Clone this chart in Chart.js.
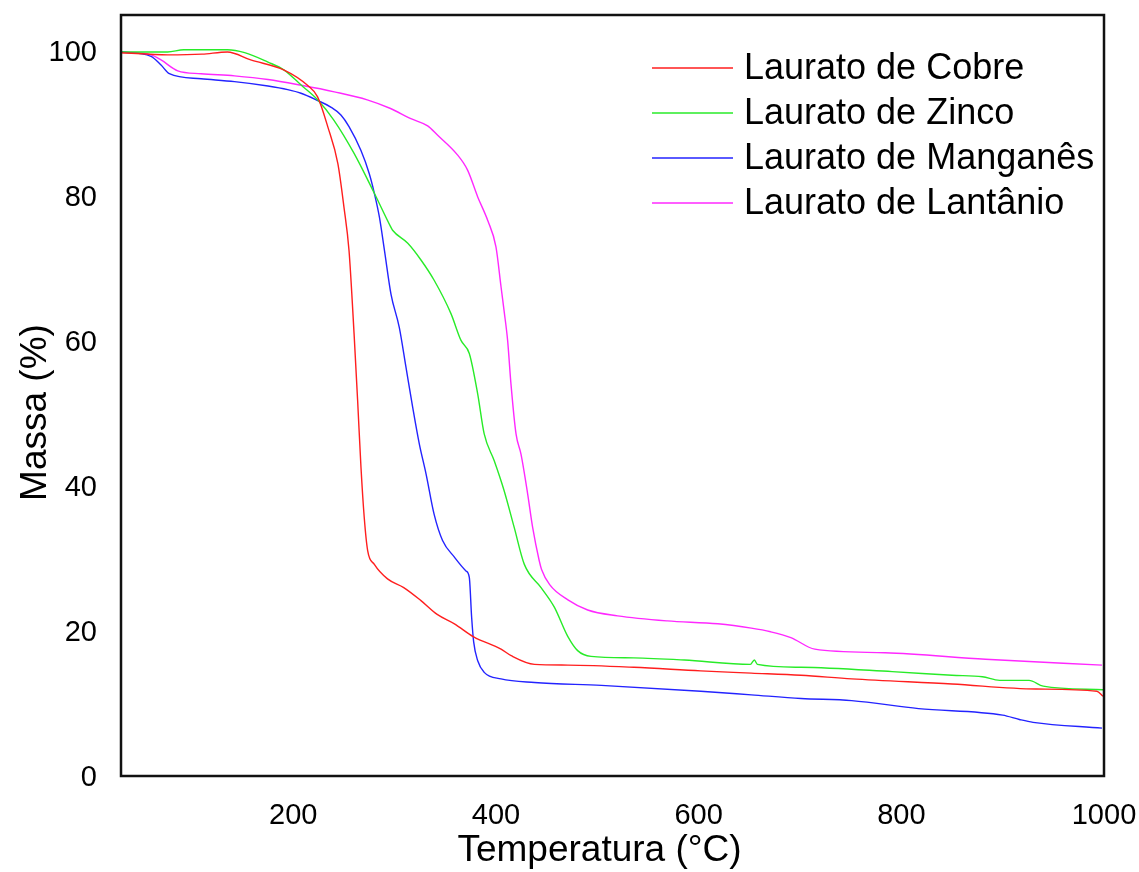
<!DOCTYPE html>
<html>
<head>
<meta charset="utf-8">
<title>TGA - Lauratos</title>
<script src="https://cdn.jsdelivr.net/npm/chart.js@4.4.1/dist/chart.umd.min.js"></script>
<style>
  body { margin: 0; background: #fff; }
  #wrap { width: 1139px; height: 872px; position: relative; }
</style>
</head>
<body>
<div id="wrap"><canvas id="tgaChart"></canvas></div>
<script>
// curvas termogravimetricas: temperatura (°C) x massa (%)
const cobreTemp  = [30, 76, 110, 135, 158, 191, 214, 224, 234, 244, 250, 255, 260, 263.5, 266.8, 270, 273.4, 280, 293, 309, 326, 342, 359, 378, 405, 415, 438, 471, 536, 602, 652, 701, 751, 850, 933, 993, 999]
const cobreMassa = [99.8, 99.5, 99.6, 99.9, 98.8, 97.4, 95.3, 93.7, 89.6, 84.5, 78.5, 72.5, 61, 51.8, 42.6, 35.7, 31.1, 29.2, 27.2, 26.0, 24.2, 22.3, 21.0, 19.2, 17.5, 16.6, 15.4, 15.3, 15.0, 14.5, 14.2, 13.9, 13.4, 12.7, 12.0, 11.7, 11.0]

const zincoTemp  = [30, 76, 92, 135, 152, 175, 191, 208, 224, 240, 260, 280, 296, 298, 313, 326, 339, 355.6, 365.5, 373.7, 382, 388.4, 398.3, 408, 418, 428, 444.5, 457.6, 470.7, 480.6, 493.8, 536, 586, 651, 655, 658, 701, 791, 850, 880, 897, 926, 940, 999]
const zincoMassa = [99.9, 99.9, 100.2, 100.2, 99.8, 98.5, 97.4, 95.3, 93.3, 90.5, 85.9, 80.4, 75.8, 75.3, 73.5, 71.2, 68.4, 63.8, 60.1, 58.3, 52.7, 47.2, 43.5, 39.4, 34.3, 29.2, 26.0, 23.3, 19.3, 17.3, 16.5, 16.3, 16.0, 15.4, 16.0, 15.4, 15.0, 14.4, 13.9, 13.7, 13.2, 13.2, 12.4, 11.9]

const manganesTemp  = [30, 59.6, 69.5, 77.7, 109, 142, 175, 194.5, 207.6, 224, 237, 247, 255, 266.8, 275, 280, 285, 290, 296.4, 304.6, 311.2, 317.8, 324.4, 331, 339, 347.3, 359, 370.4, 373.7, 376, 378, 382, 388.4, 405, 438, 504, 602, 652, 701, 751, 817, 900, 916.5, 930, 998]
const manganesMassa = [99.9, 99.3, 98.1, 96.9, 96.2, 95.8, 95.2, 94.7, 94.2, 93.2, 92.3, 91.2, 89.6, 86.3, 83.1, 80.4, 77.1, 72.5, 66.5, 61.9, 56.4, 50.9, 45.8, 41.7, 36.1, 32.5, 30.2, 28.3, 27.4, 21.9, 18.5, 15.9, 14.3, 13.4, 12.9, 12.5, 11.7, 11.2, 10.7, 10.4, 9.3, 8.4, 7.8, 7.4, 6.6]

const lantanioTemp  = [30, 59.6, 69.5, 86, 109, 142, 175, 208, 240.5, 273, 296, 316, 332.6, 342.5, 362, 372, 382, 392, 400, 405, 408, 411.5, 414.8, 419.8, 424.7, 431.3, 436.2, 442.7, 445, 453, 471, 490.5, 520, 569, 619, 652, 671, 691, 714.6, 784, 883, 998]
const lantanioMassa = [99.9, 99.5, 98.8, 97.3, 96.9, 96.6, 96.1, 95.3, 94.4, 93.3, 92.1, 90.7, 89.7, 88.4, 85.7, 83.6, 79.9, 76.6, 73.0, 67.5, 64.2, 60.1, 54.1, 47.2, 44.4, 38.9, 34.3, 29.7, 28.5, 26.4, 24.3, 22.9, 22.1, 21.4, 21.0, 20.4, 19.9, 19.1, 17.5, 17.0, 16.1, 15.3]

const seriesLabels = ['Laurato de Cobre', 'Laurato de Zinco', 'Laurato de Manganês', 'Laurato de Lantânio']
const xTicks = [200, 400, 600, 800, 1000]
const yTicks = [0, 20, 40, 60, 80, 100]
const xTitle = 'Temperatura (°C)'
const yTitle = 'Massa (%)'

const toPoints = (temps, massas) => temps.map((t, i) => ({ x: t, y: massas[i] }))

const fontFamily = '"Liberation Sans", Arial, sans-serif'

// caixa preta em volta da area do grafico
const frame = {
  id: 'frame',
  afterDatasetsDraw(chart) {
    const { ctx, chartArea: a } = chart
    ctx.save()
    ctx.strokeStyle = '#111'
    ctx.lineWidth = 2.5
    ctx.strokeRect(a.left, a.top, a.right - a.left, a.bottom - a.top)
    ctx.restore()
  }
}

// legenda dentro da area, canto superior direito
const insideLegend = {
  id: 'insideLegend',
  afterDraw(chart) {
    const { ctx, chartArea: a } = chart
    ctx.save()
    ctx.font = '36px ' + fontFamily
    ctx.textBaseline = 'middle'
    ctx.fillStyle = '#000'
    chart.data.datasets.forEach((ds, i) => {
      const y = a.top + 53 + i * 45
      const x0 = a.right - 452
      ctx.strokeStyle = ds.borderColor
      ctx.lineWidth = 1.3
      ctx.beginPath()
      ctx.moveTo(x0, y)
      ctx.lineTo(x0 + 81, y)
      ctx.stroke()
      ctx.fillText(ds.label, x0 + 92, y + 1)
    })
    ctx.restore()
  }
}

// titulos dos eixos
const axisTitles = {
  id: 'axisTitles',
  afterDraw(chart) {
    const { ctx, chartArea: a } = chart
    ctx.save()
    ctx.font = '37px ' + fontFamily
    ctx.fillStyle = '#000'
    ctx.textAlign = 'center'
    ctx.textBaseline = 'alphabetic'
    ctx.fillText(xTitle, (a.left + a.right) / 2 - 13, a.bottom + 85)
    ctx.translate(46, (a.top + a.bottom) / 2 + 17)
    ctx.rotate(-Math.PI / 2)
    ctx.fillText(yTitle, 0, 0)
    ctx.restore()
  }
}

const colors = ['rgb(255,30,30)', 'rgb(40,235,40)', 'rgb(35,35,255)', 'rgb(255,40,255)']
const allSeries = [
  toPoints(cobreTemp, cobreMassa),
  toPoints(zincoTemp, zincoMassa),
  toPoints(manganesTemp, manganesMassa),
  toPoints(lantanioTemp, lantanioMassa)
]

const ctx = document.getElementById('tgaChart')
const chart = new Chart(ctx, {
  type: 'line',
  data: {
    datasets: allSeries.map((pts, i) => ({
      label: seriesLabels[i],
      data: pts,
      borderColor: colors[i],
      borderWidth: 1.4,
      pointRadius: 0,
      cubicInterpolationMode: 'monotone',
      fill: false
    }))
  },
  options: {
    responsive: true,
    maintainAspectRatio: false,
    animation: false,
    layout: { padding: { top: 15, right: 35, left: 0, bottom: 0 } },
    plugins: {
      legend: { display: false },
      tooltip: { enabled: false }
    },
    scales: {
      x: {
        type: 'linear',
        min: 30,
        max: 1000,
        grid: { display: false, drawTicks: false },
        border: { display: false },
        afterBuildTicks: (s) => { s.ticks = xTicks.map(v => ({ value: v })) },
        afterFit: (s) => {
          s.height = 96
          s.paddingLeft = 0
          s.paddingRight = 0
        },
        ticks: {
          padding: 23,
          color: '#000',
          font: { family: fontFamily, size: 29 },
          maxRotation: 0,
          callback: (v) => String(v)
        }
      },
      y: {
        min: 0,
        max: 105,
        grid: { display: false, drawTicks: false },
        border: { display: false },
        afterBuildTicks: (s) => { s.ticks = yTicks.map(v => ({ value: v })) },
        afterFit: (s) => {
          s.width = 121
          s.paddingTop = 0
          s.paddingBottom = 0
        },
        ticks: {
          padding: 24,
          labelOffset: 2,
          color: '#000',
          font: { family: fontFamily, size: 29 },
          callback: (v) => String(v)
        }
      }
    }
  },
  plugins: [frame, insideLegend, axisTitles]
})
</script>
</body>
</html>
